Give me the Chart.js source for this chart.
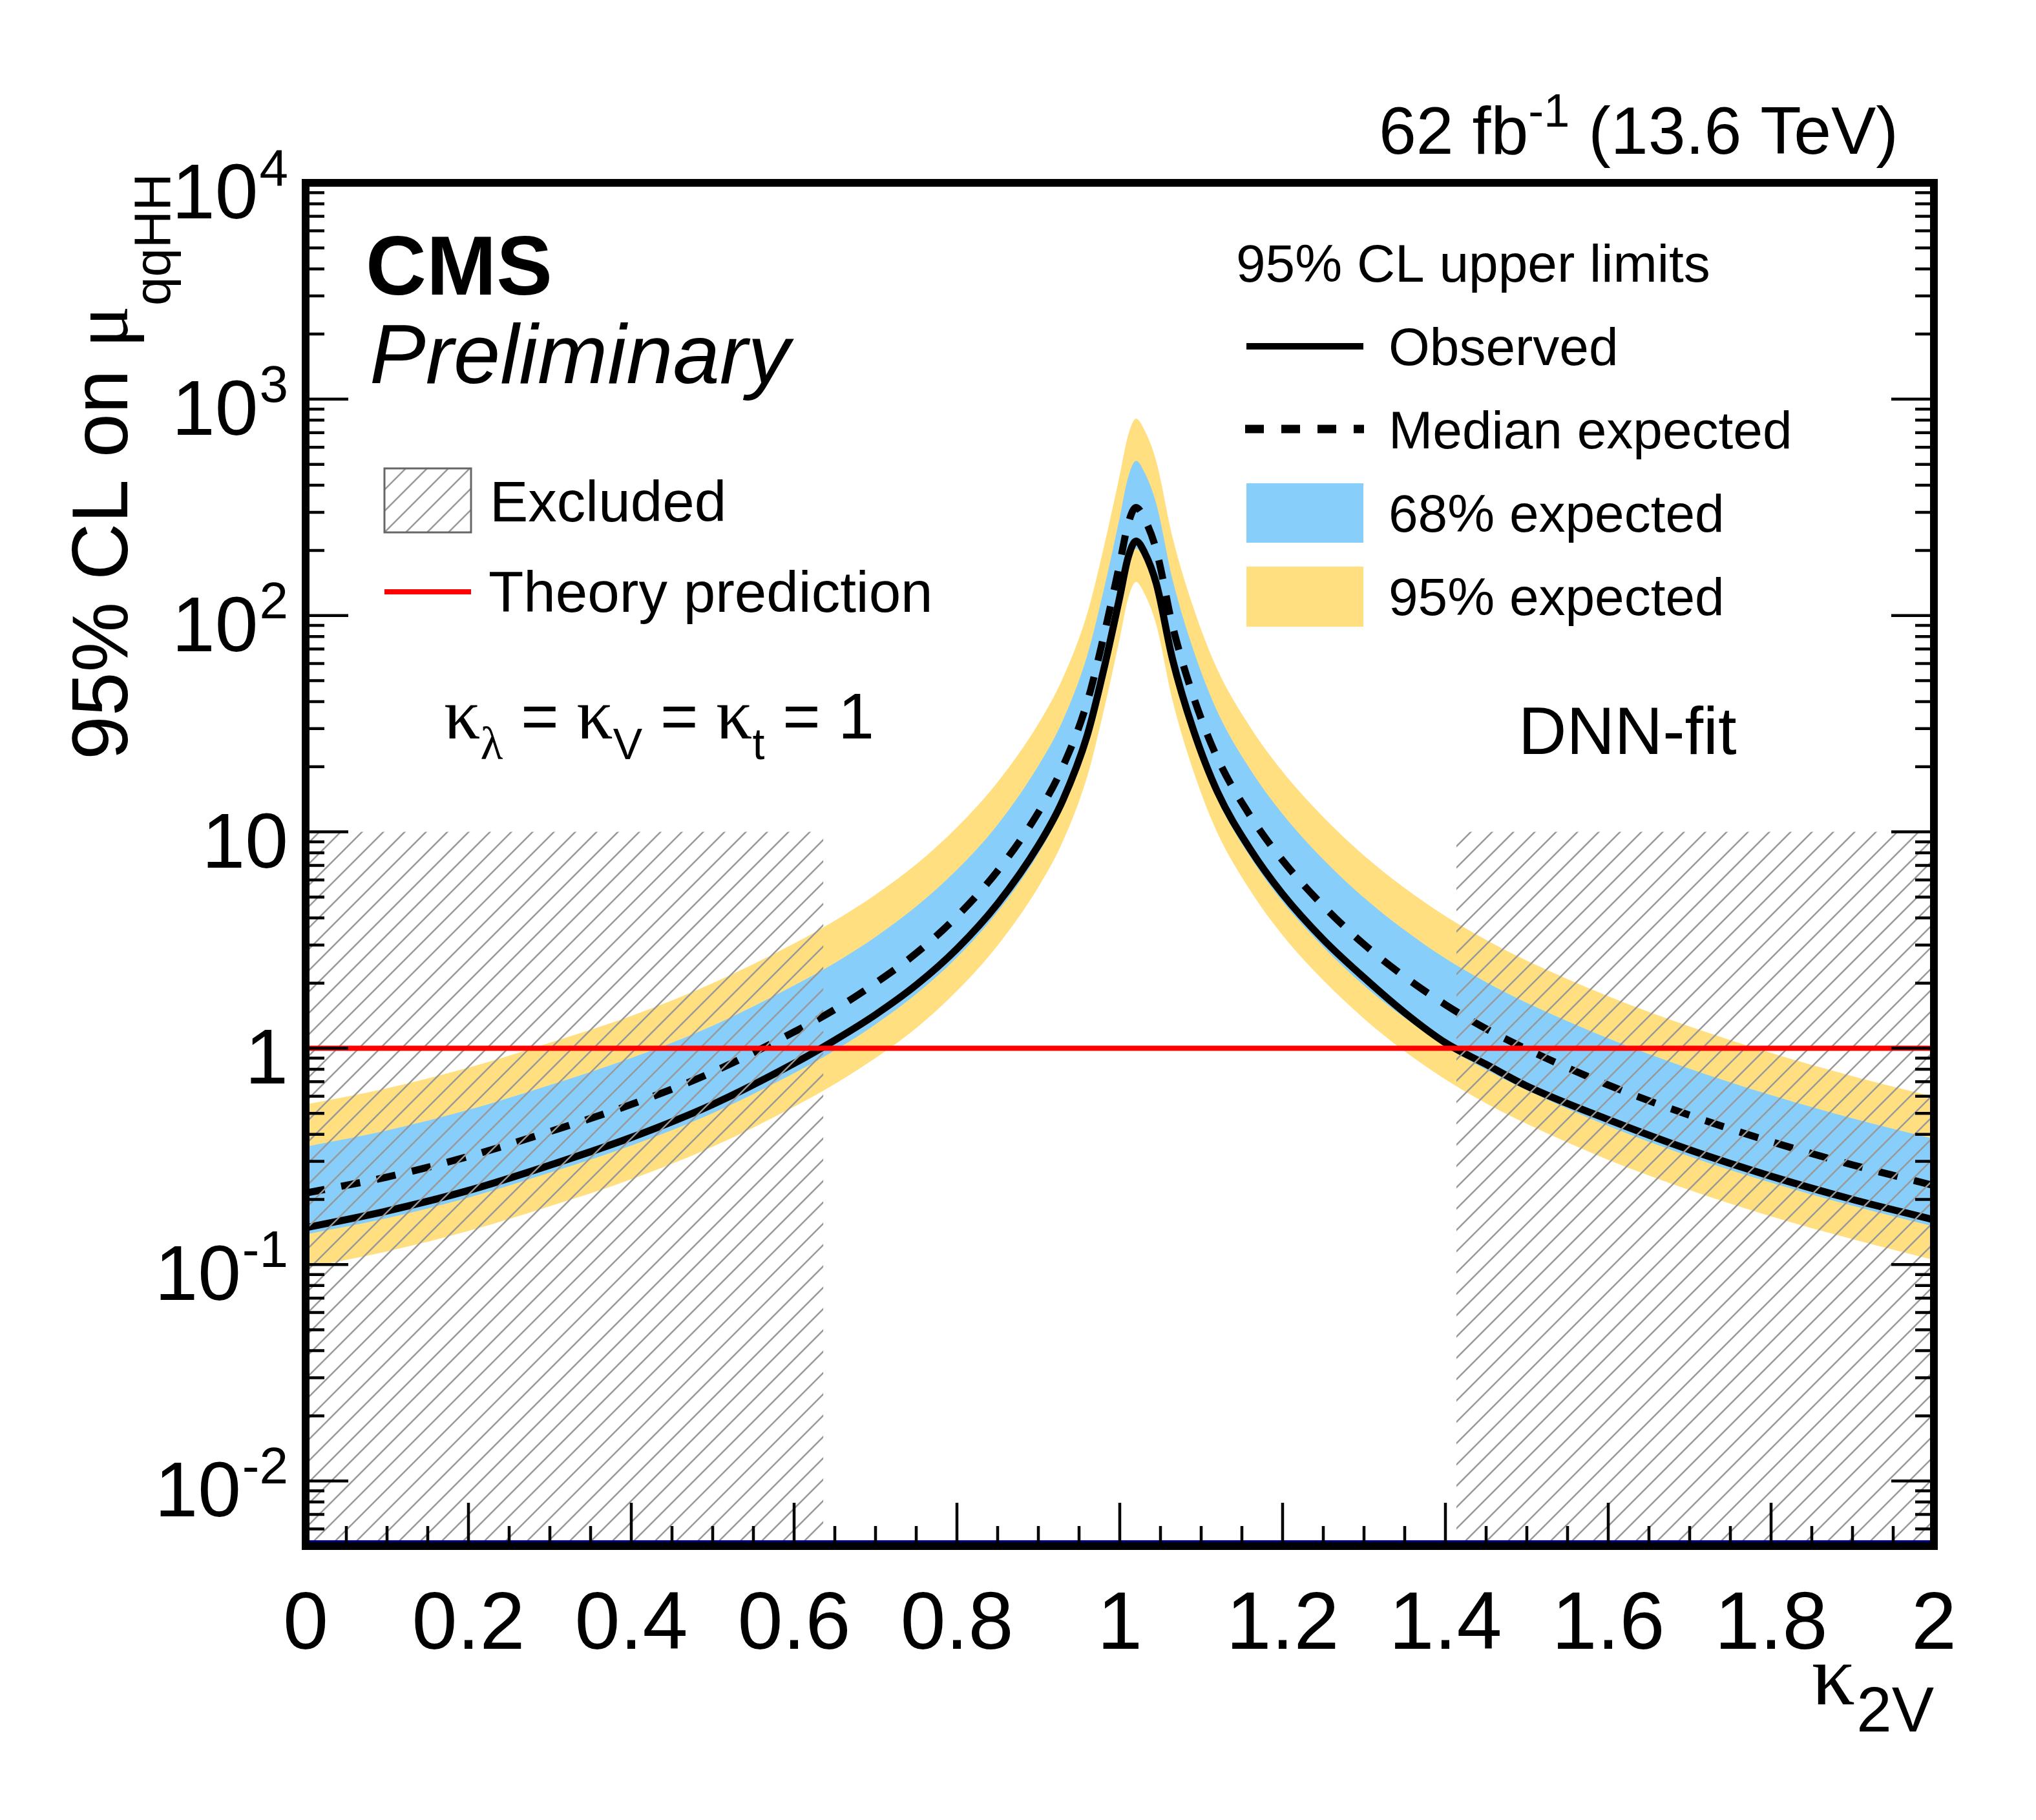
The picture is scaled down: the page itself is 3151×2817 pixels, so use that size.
<!DOCTYPE html>
<html>
<head>
<meta charset="utf-8">
<script src="https://cdn.jsdelivr.net/npm/chart.js@4.4.1/dist/chart.umd.min.js"></script>
<style>
html,body{margin:0;padding:0;background:#fff;}
canvas{display:block;}
</style>
</head>
<body>
<canvas id="c" width="3151" height="2817" style="width:3151px;height:2817px"></canvas>
<script>
// ---------------- data ----------------
const kappa2V    = [0.00,0.10,0.20,0.30,0.40,0.50,0.60,0.65,0.70,0.75,0.80,0.85,0.90,0.93,0.96,0.98,1.00,1.01,1.02,1.03,1.045,1.065,1.09,1.12,1.16,1.20,1.25,1.30,1.35,1.40,1.45,1.50,1.60,1.70,1.80,1.90,2.00];
const observed   = [0.148,0.177,0.220,0.288,0.387,0.550,0.851,1.09,1.43,1.96,2.88,4.66,8.65,14.0,27.9,55.6,122,184,221,197,140,62.4,29.9,15.3,8.34,5.16,3.18,2.12,1.46,1.06,0.842,0.669,0.468,0.339,0.256,0.200,0.161];
const expected   = [0.214,0.254,0.316,0.412,0.550,0.776,1.19,1.51,2.00,2.75,4.07,6.61,12.3,20.0,39.8,79.4,174,263,316,282,200,89.1,42.7,21.9,11.9,7.38,4.55,3.02,2.14,1.59,1.23,0.990,0.676,0.490,0.370,0.289,0.232];
const band68Up   = [0.351,0.417,0.519,0.676,0.902,1.27,1.95,2.48,3.27,4.52,6.68,10.8,20.2,32.7,65.3,130,285,432,519,462,327,146,70.0,35.9,19.5,12.1,7.46,4.96,3.51,2.60,2.02,1.62,1.11,0.804,0.607,0.474,0.381];
const band68Down = [0.138,0.164,0.204,0.266,0.355,0.501,0.767,0.977,1.29,1.78,2.63,4.27,7.94,12.9,25.7,51.3,112,170,204,182,129,57.5,27.5,14.1,7.69,4.76,2.94,1.95,1.38,1.02,0.795,0.639,0.437,0.316,0.239,0.187,0.150];
const band95Up   = [0.550,0.653,0.813,1.06,1.41,2.00,3.05,3.89,5.13,7.08,10.5,17.0,31.6,51.3,102,204,447,676,813,724,513,229,110,56.2,30.6,19.0,11.7,7.77,5.50,4.08,3.17,2.54,1.74,1.26,0.951,0.743,0.597];
const band95Down = [0.0966,0.115,0.143,0.186,0.248,0.351,0.537,0.684,0.902,1.24,1.84,2.99,5.56,9.02,18.0,35.9,78.5,119,143,127,90.2,40.3,19.3,9.89,5.38,3.33,2.06,1.37,0.967,0.717,0.556,0.447,0.305,0.221,0.167,0.131,0.105];

const theoryValue  = 1;
const excludedLow  = [0, 0.636];
const excludedHigh = [1.4135, 2];
const excludedTop  = 10;
const bottomLineValue = 0.00525;

const xTickValues = [0,0.2,0.4,0.6,0.8,1.0,1.2,1.4,1.6,1.8,2.0];
const xTickLabels = ['0','0.2','0.4','0.6','0.8','1','1.2','1.4','1.6','1.8','2'];
const yTickValues = [10000,1000,100,10,1,0.1,0.01];
const yTickBase   = ['10','10','10','10','1','10','10'];
const yTickExp    = ['4','3','2','','','-1','-2'];

// ---------------- styling helpers ----------------
const SANS   = s => s + 'px "Liberation Sans", Arial, Helvetica, sans-serif';
const BOLD   = s => 'bold ' + s + 'px "Liberation Sans", Arial, Helvetica, sans-serif';
const ITAL   = s => 'italic ' + s + 'px "Liberation Sans", Arial, Helvetica, sans-serif';
const SERIF  = s => s + 'px "Liberation Serif", "DejaVu Serif", serif';
const YELLOW = '#ffdf7f';
const BLUE   = '#87cefa';

function makeHatch(ctx) {
  const p = 33;
  const c = document.createElement('canvas');
  c.width = p; c.height = p;
  const g = c.getContext('2d');
  g.strokeStyle = '#999999';
  g.lineWidth = 2.5;
  g.beginPath();
  g.moveTo(0, p); g.lineTo(p, 0);
  g.moveTo(-p / 2, p / 2); g.lineTo(p / 2, -p / 2);
  g.moveTo(p / 2, p * 1.5); g.lineTo(p * 1.5, p / 2);
  g.stroke();
  return ctx.createPattern(c, 'repeat');
}

const canvas = document.getElementById('c');
const ctx0 = canvas.getContext('2d');
const hatch = makeHatch(ctx0);

const pts = arr => kappa2V.map((k, i) => ({x: k, y: arr[i]}));

const decor = {
  id: 'decor',
  afterDraw(chart) {
    const ctx = chart.ctx;
    const a = chart.chartArea;
    const xs = chart.scales.x, ys = chart.scales.y;
    ctx.save();
    ctx.fillStyle = '#000';
    ctx.strokeStyle = '#000';
    ctx.textBaseline = 'alphabetic';

    // ---- ticks ----
    ctx.lineWidth = 4.5;
    ctx.beginPath();
    for (let k = -3; k <= 4; k++) {
      for (let m = 1; m <= 9; m++) {
        const v = m * Math.pow(10, k);
        if (v < 0.005 * 0.999 || v > 10000 * 1.001) continue;
        const py = ys.getPixelForValue(v);
        const len = (m === 1) ? 66 : 29;
        ctx.moveTo(a.left, py); ctx.lineTo(a.left + len, py);
        ctx.moveTo(a.right, py); ctx.lineTo(a.right - len, py);
      }
    }
    for (let i = 0; i <= 40; i++) {
      const v = i * 0.05;
      const px = xs.getPixelForValue(v);
      const len = (i % 4 === 0) ? 67 : 31;
      ctx.moveTo(px, a.bottom); ctx.lineTo(px, a.bottom - len);
    }
    ctx.stroke();

    // ---- frame ----
    ctx.lineWidth = 12;
    ctx.strokeRect(a.left, a.top, a.right - a.left, a.bottom - a.top);

    // ---- y tick labels ----
    yTickValues.forEach((v, i) => {
      const py = ys.getPixelForValue(v);
      const right = 446;
      ctx.textAlign = 'right';
      let supW = 0;
      if (yTickExp[i]) {
        ctx.font = SANS(80);
        supW = ctx.measureText(yTickExp[i]).width;
        ctx.fillText(yTickExp[i], right, py + 4);
      }
      ctx.font = SANS(120);
      ctx.fillText(yTickBase[i], right - supW - (supW ? 2 : 0), py + 55);
    });

    // ---- x tick labels ----
    ctx.font = SANS(126);
    ctx.textAlign = 'center';
    xTickValues.forEach((v, i) => {
      ctx.fillText(xTickLabels[i], xs.getPixelForValue(v), 2552);
    });

    // ---- x title ----
    ctx.textAlign = 'right';
    ctx.font = SANS(98);
    const w2 = ctx.measureText('2V').width;
    ctx.fillText('2V', a.right, 2680);
    ctx.font = SERIF(134);
    ctx.fillText('\u03BA', a.right - w2 - 2, 2638);

    // ---- y title (rotated) ----
    ctx.save();
    ctx.translate(197, 1176);
    ctx.rotate(-Math.PI / 2);
    ctx.textAlign = 'left';
    let w = 0;
    ctx.font = SANS(122);
    ctx.fillText('95% CL on ', 0, 0);
    w += ctx.measureText('95% CL on ').width;
    ctx.font = SERIF(122);
    ctx.fillText('\u03BC', w, 0);
    w += ctx.measureText('\u03BC').width;
    ctx.font = SANS(80);
    ctx.fillText('qqHH', w, 66);
    ctx.restore();

    // ---- lumi text ----
    ctx.textAlign = 'left';
    const lumi = [['62 fb', SANS(104), 238], ['-1', SANS(72), 196], [' (13.6 TeV)', SANS(104), 238]];
    let tot = 0;
    lumi.forEach(p => { ctx.font = p[1]; tot += ctx.measureText(p[0]).width; });
    let lx = 2938 - tot;
    lumi.forEach(p => { ctx.font = p[1]; ctx.fillText(p[0], lx, p[2]); lx += ctx.measureText(p[0]).width; });

    // ---- CMS Preliminary ----
    ctx.font = BOLD(130);
    ctx.fillText('CMS', 566, 456);
    ctx.font = ITAL(130);
    ctx.fillText('Preliminary', 572, 593);

    // ---- left legend ----
    ctx.fillStyle = hatch;
    ctx.fillRect(595, 725, 134, 99);
    ctx.strokeStyle = '#666';
    ctx.lineWidth = 3;
    ctx.strokeRect(595, 725, 134, 99);
    ctx.fillStyle = '#000';
    ctx.font = SANS(89);
    ctx.fillText('Excluded', 758, 807);
    ctx.strokeStyle = '#ff0000';
    ctx.lineWidth = 8;
    ctx.beginPath(); ctx.moveTo(595, 916); ctx.lineTo(729, 916); ctx.stroke();
    ctx.fillText('Theory prediction', 756, 947);

    // ---- coupling text ----
    let cx = 687;
    const by = 1143, sb = 1175;
    const seg = (s, font, yy) => { ctx.font = font; ctx.fillText(s, cx, yy); cx += ctx.measureText(s).width; };
    seg('\u03BA', SERIF(112), by);
    seg('\u03BB', SERIF(72), sb);
    seg(' = ', SANS(100), by);
    seg('\u03BA', SERIF(112), by);
    seg('V', SANS(68), sb);
    seg(' = ', SANS(100), by);
    seg('\u03BA', SERIF(112), by);
    seg('t', SANS(68), sb);
    seg(' = 1', SANS(100), by);

    // ---- DNN-fit ----
    ctx.font = SANS(103);
    ctx.fillText('DNN-fit', 2350, 1167);

    // ---- right legend ----
    ctx.font = SANS(82);
    ctx.fillText('95% CL upper limits', 1913, 436);
    const lt = 2149;
    ctx.fillText('Observed', lt, 565);
    ctx.fillText('Median expected', lt, 694);
    ctx.fillText('68% expected', lt, 823);
    ctx.fillText('95% expected', lt, 952);
    ctx.strokeStyle = '#000';
    ctx.lineWidth = 10;
    ctx.beginPath(); ctx.moveTo(1929, 536); ctx.lineTo(2110, 536); ctx.stroke();
    ctx.lineWidth = 13;
    ctx.setLineDash([29, 27]);
    ctx.beginPath(); ctx.moveTo(1927, 664); ctx.lineTo(2111, 664); ctx.stroke();
    ctx.setLineDash([]);
    ctx.fillStyle = BLUE;
    ctx.fillRect(1929, 748, 181, 92);
    ctx.fillStyle = YELLOW;
    ctx.fillRect(1929, 877, 181, 93);

    ctx.restore();
  }
};

const curve = {cubicInterpolationMode: 'monotone', pointRadius: 0, pointHoverRadius: 0};

new Chart(ctx0, {
  type: 'line',
  data: {
    datasets: [
      { label: 'Theory prediction', data: [{x: 0, y: theoryValue}, {x: 2, y: theoryValue}],
        borderColor: '#ff0000', borderWidth: 8, pointRadius: 0, fill: false, order: 0 },
      { label: 'bottom', data: [{x: 0, y: bottomLineValue}, {x: 2, y: bottomLineValue}],
        borderColor: '#000080', borderWidth: 4, pointRadius: 0, fill: false, order: 0 },
      { label: 'Excluded low', data: [{x: excludedLow[0], y: excludedTop}, {x: excludedLow[1], y: excludedTop}],
        borderColor: 'rgba(0,0,0,0)', borderWidth: 0, pointRadius: 0, backgroundColor: hatch, fill: 'start', order: 1 },
      { label: 'Excluded high', data: [{x: excludedHigh[0], y: excludedTop}, {x: excludedHigh[1], y: excludedTop}],
        borderColor: 'rgba(0,0,0,0)', borderWidth: 0, pointRadius: 0, backgroundColor: hatch, fill: 'start', order: 1 },
      Object.assign({ label: 'Observed', data: pts(observed), borderColor: '#000', borderWidth: 11,
        borderJoinStyle: 'round', fill: false, order: 2 }, curve),
      Object.assign({ label: 'Median expected', data: pts(expected), borderColor: '#000', borderWidth: 11,
        borderDash: [30, 26], fill: false, order: 3 }, curve),
      Object.assign({ label: '68% up', data: pts(band68Up), borderColor: 'rgba(0,0,0,0)', borderWidth: 0,
        backgroundColor: BLUE, fill: 7, order: 4 }, curve),
      Object.assign({ label: '68% down', data: pts(band68Down), borderColor: 'rgba(0,0,0,0)', borderWidth: 0,
        fill: false, order: 4 }, curve),
      Object.assign({ label: '95% up', data: pts(band95Up), borderColor: 'rgba(0,0,0,0)', borderWidth: 0,
        backgroundColor: YELLOW, fill: 9, order: 5 }, curve),
      Object.assign({ label: '95% down', data: pts(band95Down), borderColor: 'rgba(0,0,0,0)', borderWidth: 0,
        fill: false, order: 5 }, curve)
    ]
  },
  options: {
    responsive: false,
    animation: false,
    devicePixelRatio: 1,
    layout: { padding: { left: 473, right: 158, top: 283, bottom: 424 } },
    plugins: { legend: { display: false }, tooltip: { enabled: false } },
    events: [],
    scales: {
      x: { type: 'linear', min: 0, max: 2, display: false },
      y: { type: 'logarithmic', min: 0.005, max: 10000, display: false }
    }
  },
  plugins: [decor]
});
</script>
</body>
</html>
